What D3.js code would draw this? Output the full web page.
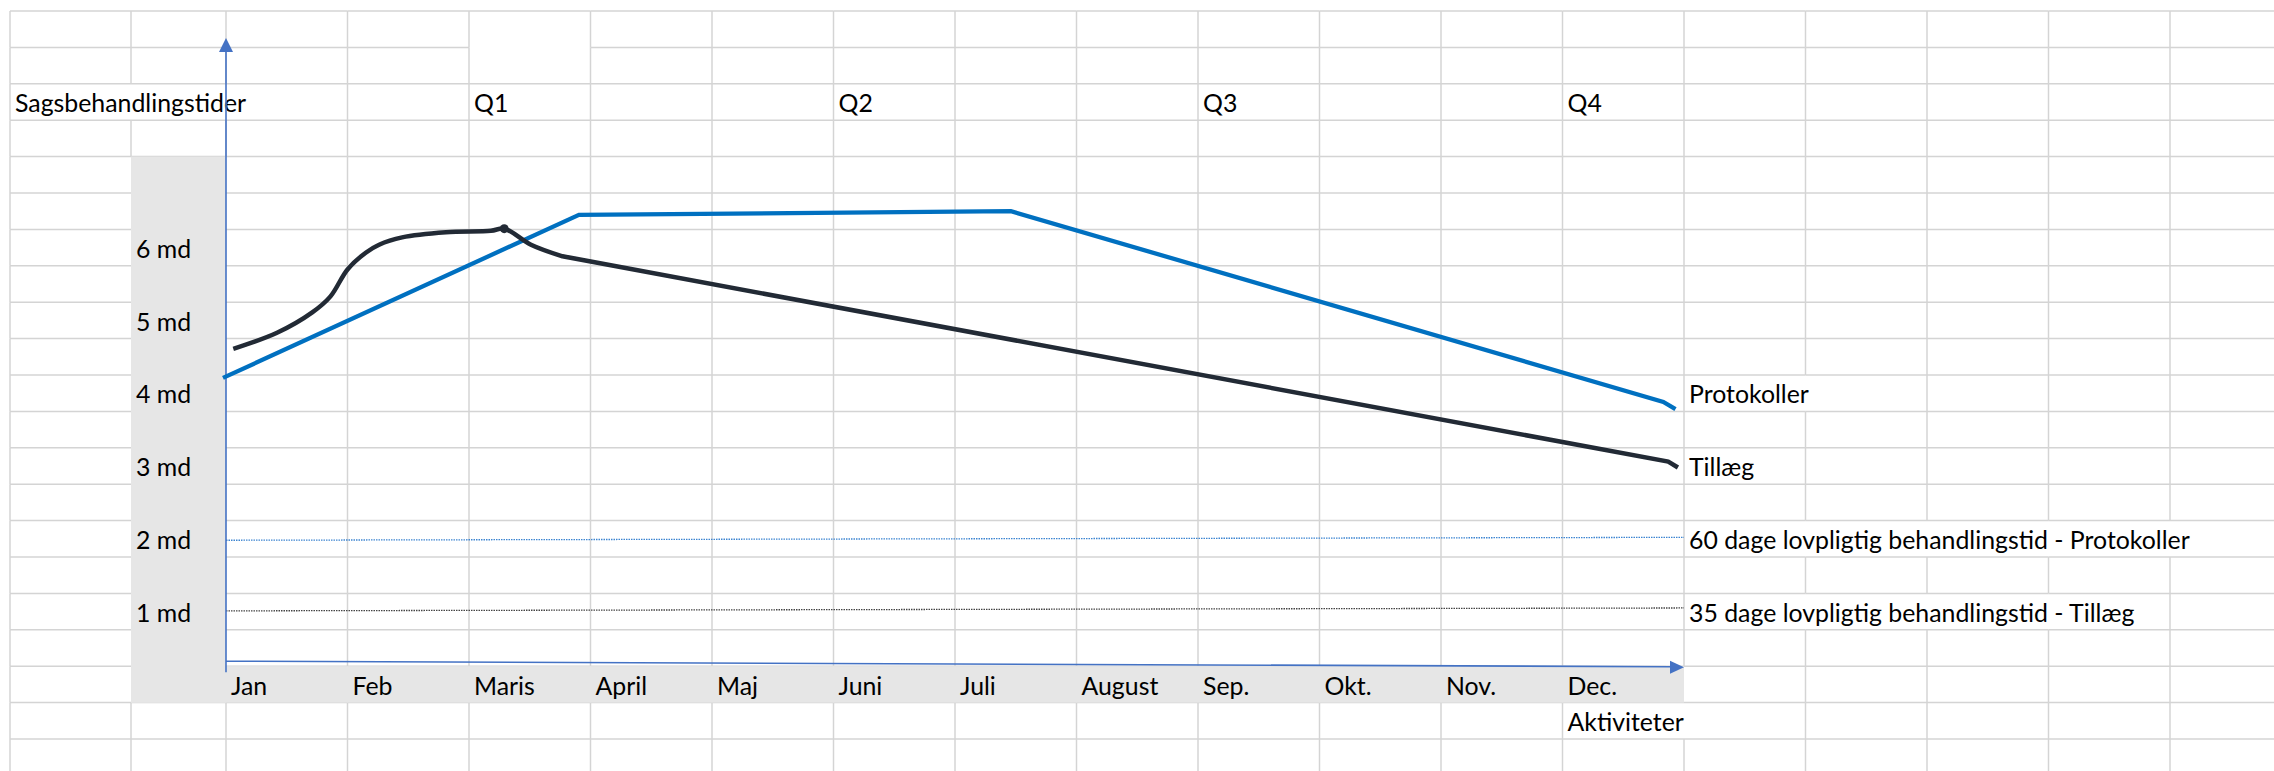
<!DOCTYPE html>
<html><head><meta charset="utf-8">
<script src="https://cdn.jsdelivr.net/npm/d3@7"></script>
<style>html,body{margin:0;padding:0;background:#fff;} svg{display:block;}</style>
</head><body><svg id="c" width="2274" height="771"></svg>
<script>
// ---------- data ----------
const months = ["Jan","Feb","Maris","April","Maj","Juni","Juli","August","Sep.","Okt.","Nov.","Dec."];
const quarters = ["Q1","Q2","Q3","Q4"];
const quarterMonth = [2,5,8,11];
const yTicks = [6,5,4,3,2,1];
const yTickLabels = ["6 md","5 md","4 md","3 md","2 md","1 md"];
const title = "Sagsbehandlingstider";
const xTitle = "Aktiviteter";
// Protokoller (month position, months of processing time)
const protokollerX = [-0.025, 2.905, 6.46, 11.83, 11.93];
const protokollerY = [4.21, 6.45, 6.50, 3.88, 3.78];
// Tillæg
const tillaegX = [0.06,0.42,0.71,0.86,1.00,1.15,1.26,1.45,1.81,2.18,2.29,2.51,2.77,11.87,11.95];
const tillaegY = [4.61,4.83,5.11,5.33,5.70,5.93,6.04,6.14,6.21,6.23,6.26,6.04,5.88,3.06,2.98];
const tillaegPeak = 10;
const tillaegSmoothEnd = 12; // curve is hand-drawn smooth up to here, straight after
const seriesNames = ["Protokoller","Tillæg"];
const seriesLabelAt = [4,3];
// statutory limits (dotted reference lines)
const refNames = ["60 dage lovpligtig behandlingstid - Protokoller","35 dage lovpligtig behandlingstid - Tillæg"];
const refStart = [1.98, 1.01];
const refEnd = [2.02, 1.05];
const refLabelAt = [2,1];

// ---------- layout ----------
const W = 2274, H = 771;
const topY = 11, rowH = 36.4;
const svg = d3.select("#c");
const x = d3.scaleLinear().domain([0,12]).range([226,1684]);
const y = d3.scaleLinear().domain([1,6]).range([topY+16.5*rowH, topY+6.5*rowH]);
const rowEdges = d3.range(0,22).map(k => topY + k*rowH);
const colEdges = [10,131].concat(d3.range(0,18).map(x));
const FONT = "Lato, 'Open Sans', sans-serif";
const gridColor = "#d4d4d4", grayFill = "#e6e6e6", axisBlue = "#4472C4";

// font size fitted to the reference label width
const probe = svg.append("text").attr("font-family",FONT).attr("font-size",100).text(refNames[0]);
const fs = 100*501/probe.node().getComputedTextLength();
probe.remove();

svg.append("rect").attr("width",W).attr("height",H).attr("fill","#fff");

// texts to place (cell-based)
const texts = [];
texts.push({t:title, x0:10, row:2});
quarters.forEach((q,i)=>texts.push({t:q, x0:x(quarterMonth[i]), row:2}));
yTicks.forEach((v,i)=>texts.push({t:yTickLabels[i], x0:131, yc:y(v)}));
months.forEach((m,i)=>texts.push({t:m, x0:x(i), row:18}));
texts.push({t:xTitle, x0:x(11), row:19});
seriesNames.forEach((s,i)=>texts.push({t:s, x0:x(12), yc:y(seriesLabelAt[i])}));
refNames.forEach((s,i)=>texts.push({t:s, x0:x(12), yc:y(refLabelAt[i])}));

const measure = svg.append("g").attr("font-family",FONT).attr("font-size",fs);
texts.forEach(d=>{
  if (d.row === undefined) d.row = Math.round((d.yc - topY - rowH/2)/rowH);
  const n = measure.append("text").text(d.t);
  d.w = n.node().getComputedTextLength();
  n.remove();
});
measure.remove();

function vHidden(xv, r){
  if (r>=4 && r<=18 && xv>=130 && xv<=227) return true;
  if (r===18 && xv>=130 && xv<=1685) return true;
  for (const d of texts){
    if (d.row===r && xv>d.x0+1 && xv < d.x0+5+d.w+3) return true;
  }
  return false;
}
function hHidden(k, c0){
  if (k===1 && Math.abs(c0-x(2))<1) return true;
  return false;
}

const grid = svg.append("g").attr("stroke",gridColor).attr("stroke-width",1.5);
colEdges.forEach(xv=>{
  for (let r=0;r<rowEdges.length-1;r++){
    if (vHidden(xv,r)) continue;
    grid.append("line").attr("x1",xv).attr("x2",xv).attr("y1",rowEdges[r]).attr("y2",rowEdges[r+1]);
  }
});
rowEdges.forEach((yv,k)=>{
  const cols = colEdges.concat([W+5]);
  for (let c=0;c<cols.length-1;c++){
    if (hHidden(k,cols[c])) continue;
    grid.append("line").attr("x1",cols[c]).attr("x2",cols[c+1]).attr("y1",yv).attr("y2",yv);
  }
});

// gray filled cells
svg.append("rect").attr("x",131).attr("y",rowEdges[4]).attr("width",226-131).attr("height",rowEdges[19]-rowEdges[4]).attr("fill",grayFill);
svg.append("rect").attr("x",131).attr("y",rowEdges[18]).attr("width",x(12)-131).attr("height",rowH).attr("fill",grayFill);

// cell texts
const tg = svg.append("g").attr("font-family",FONT).attr("font-size",fs).attr("fill","#000");
texts.forEach(d=>{
  tg.append("text").attr("x",d.x0+5).attr("y",rowEdges[d.row+1]-8).text(d.t);
});

// reference dotted lines
const refColors = ["#3d85d1","#444"];
refNames.forEach((n,i)=>{
  svg.append("line").attr("x1",x(0)).attr("x2",x(12))
    .attr("y1",y(refStart[i])).attr("y2",y(refEnd[i]))
    .attr("stroke",refColors[i]).attr("stroke-width",1.3).attr("stroke-dasharray","1.5,1");
});

// axes (arrows)
const axG = svg.append("g");
const axY0 = rowEdges[18]-5, axY1 = rowEdges[18]+1;
axG.append("line").attr("x1",x(0)).attr("x2",x(12)-12).attr("y1",axY0).attr("y2",axY1-0.5)
  .attr("stroke",axisBlue).attr("stroke-width",1.6);
axG.append("path").attr("d",`M${x(12)},${axY1} L${x(12)-14},${axY1-6.5} L${x(12)-14},${axY1+6.5} Z`).attr("fill",axisBlue);
const yTip = topY+27;
axG.append("line").attr("x1",x(0)).attr("x2",x(0)).attr("y1",rowEdges[18]+6).attr("y2",yTip+12)
  .attr("stroke",axisBlue).attr("stroke-width",1.6);
axG.append("path").attr("d",`M${x(0)},${yTip} L${x(0)-7},${yTip+14} L${x(0)+7},${yTip+14} Z`).attr("fill",axisBlue);

// series
const protData = protokollerX.map((m,i)=>[m,protokollerY[i]]);
const tilData = tillaegX.map((m,i)=>[m,tillaegY[i]]);
svg.append("path").datum(protData)
  .attr("d",d3.line().x(d=>x(d[0])).y(d=>y(d[1])))
  .attr("fill","none").attr("stroke","#0070C0").attr("stroke-width",4.3).attr("stroke-linejoin","miter");
const smoothPart = d3.line().x(d=>x(d[0])).y(d=>y(d[1])).curve(d3.curveCatmullRom.alpha(0.5))(tilData.slice(0,tillaegSmoothEnd+1));
const straightPart = tilData.slice(tillaegSmoothEnd+1).map(d=>`L${x(d[0])},${y(d[1])}`).join("");
svg.append("path")
  .attr("d",smoothPart+straightPart)
  .attr("fill","none").attr("stroke","#222a35").attr("stroke-width",4.5).attr("stroke-linejoin","miter");
svg.append("circle").attr("cx",x(tillaegX[tillaegPeak])).attr("cy",y(tillaegY[tillaegPeak])).attr("r",4.5).attr("fill","#222a35");
</script>
</body></html>
